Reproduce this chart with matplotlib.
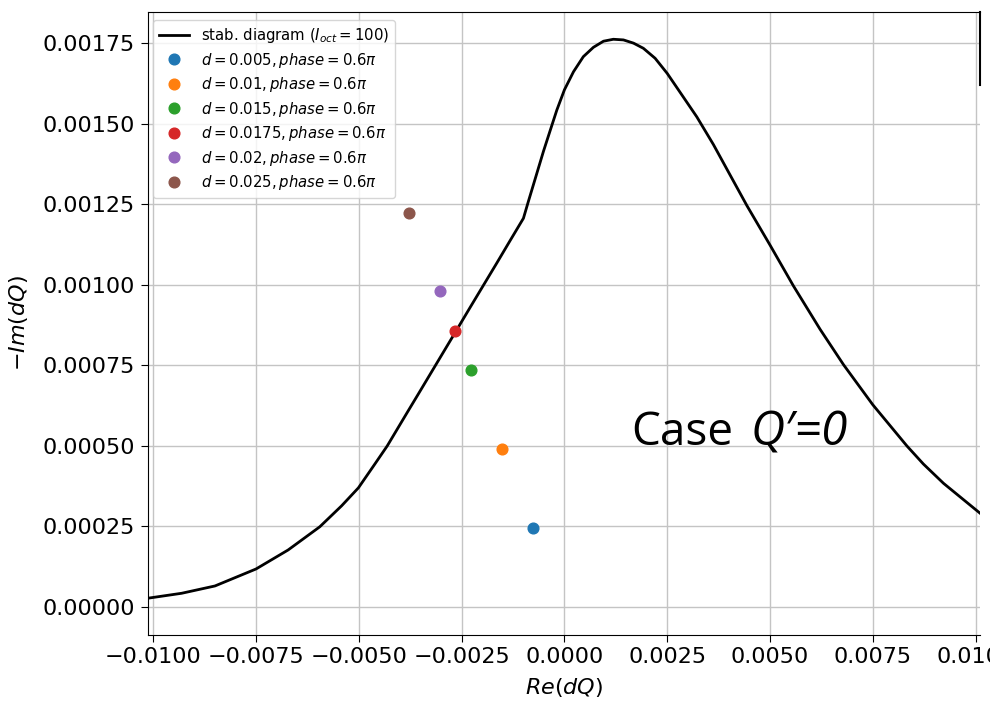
import matplotlib
matplotlib.use("Agg")
import matplotlib.pyplot as plt

# stability diagram
stab_re = [-0.01014, -0.00931, -0.0085, -0.0075, -0.00672, -0.00595, -0.00542,
           -0.00501, -0.00461, -0.00431, -0.0038, -0.00355, -0.0031, -0.002617,
           -0.00229, -0.00197, -0.001645, -0.00132, -0.000997, -0.00088, -0.00071,
           -0.00051, -0.000348, -0.000185, 0.0, 0.00022, 0.00046, 0.000705, 0.00095,
           0.00119, 0.001435, 0.00168, 0.00192, 0.002206, 0.0025, 0.002815, 0.00322,
           0.003624, 0.00395, 0.00444, 0.005, 0.00557, 0.00622, 0.00679, 0.0075,
           0.00833, 0.00873, 0.00922, 0.01011]
stab_im = [0.000027, 0.0000425, 0.0000652, 0.000118, 0.000177, 0.000249, 0.000314,
           0.00037, 0.000444, 0.0005, 0.000609, 0.000662, 0.000758, 0.000861,
           0.000931, 0.000999, 0.001068, 0.001138, 0.001207, 0.001258, 0.00133,
           0.001415, 0.001479, 0.001543, 0.001606, 0.001662, 0.001709, 0.001738, 0.001757,
           0.001763, 0.001761, 0.001751, 0.001735, 0.001704, 0.001657, 0.001598, 0.001522,
           0.001436, 0.00136, 0.001246, 0.001124, 0.000997, 0.000862, 0.000752, 0.000628,
           0.0005, 0.000444, 0.000384, 0.000291]

d_labels = ['0.005', '0.01', '0.015', '0.0175', '0.02', '0.025']
pt_re = [-0.000761, -0.001508, -0.002269, -0.002651, -0.003023, -0.003777]
pt_im = [0.000245, 0.000491, 0.000735, 0.000858, 0.000981, 0.0012245]
colors = ['C0', 'C1', 'C2', 'C3', 'C4', 'C5']

fig = plt.figure(figsize=(9.9, 7.06), dpi=100)
ax = fig.add_axes([0.149, 0.1006, 0.841, 0.883])

ax.plot(stab_re, stab_im, color='k', lw=2, label=r'stab. diagram ($I_{oct}=100$)')
for x, y, d, c in zip(pt_re, pt_im, d_labels, colors):
    ax.plot(x, y, 'o', color=c, ms=7.7, label=r'$d=' + d + r', phase=0.6\pi$')

ax.set_xlim(-0.01014, 0.01011)
ax.set_ylim(-0.000087, 0.001849)
ax.set_xticks([-0.01, -0.0075, -0.005, -0.0025, 0.0, 0.0025, 0.005, 0.0075, 0.01])
ax.set_yticks([0, 0.00025, 0.0005, 0.00075, 0.001, 0.00125, 0.0015, 0.00175])
ax.set_xticklabels(['\u22120.0100', '\u22120.0075', '\u22120.0050', '\u22120.0025', '0.0000',
                    '0.0025', '0.0050', '0.0075', '0.0100'])
ax.set_yticklabels(['0.00000', '0.00025', '0.00050', '0.00075', '0.00100',
                    '0.00125', '0.00150', '0.00175'])
ax.tick_params(labelsize=16, length=5, pad=4)
ax.grid(True, color='#c4c4c4', lw=1.0)
ax.set_axisbelow(True)
ax.spines['right'].set_bounds(0.001621, 0.001849)
ax.spines['right'].set_linewidth(1.5)

ax.set_xlabel(r'$Re(dQ)$', fontsize=16, labelpad=6)
ax.set_ylabel(r'$-Im(dQ)$', fontsize=16, labelpad=9)

ax.legend(loc='upper left', bbox_to_anchor=(0.007, 0.9864), borderaxespad=0,
          fontsize=10.75, handlelength=2.0, handletextpad=0.8, labelspacing=0.37)

ax.text(0.00163, 0.000502, 'Case', fontsize=33, family=['Open Sans', 'DejaVu Sans'])
ax.text(0.00452, 0.000502, 'Q\u2032=0', fontsize=34, style='italic',
        family=['Open Sans', 'DejaVu Sans'])

fig.savefig('out.png', dpi=100)
